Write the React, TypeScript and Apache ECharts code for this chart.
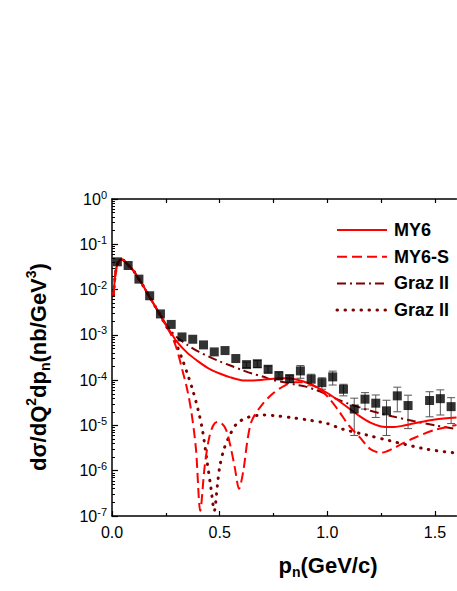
import React, { useEffect, useRef } from "react";
import * as echarts from "echarts";

// ---------- data ----------
const expX = [0.025, 0.075, 0.125, 0.175, 0.225, 0.275, 0.325, 0.375, 0.425, 0.475, 0.525, 0.575, 0.625, 0.675, 0.725, 0.775, 0.825, 0.875, 0.925, 0.975, 1.025, 1.075, 1.125, 1.175, 1.225, 1.275, 1.325, 1.375, 1.475, 1.525, 1.575];
const expY = [0.041, 0.034, 0.017, 0.0073, 0.0029, 0.0017, 0.0009, 0.0008, 0.0006, 0.00042, 0.00045, 0.0003, 0.00022, 0.00023, 0.000174, 0.000126, 0.000108, 0.00016, 0.000105, 0.000088, 0.000118, 0.000063, 0.000023, 0.000038, 0.000031, 0.000021, 0.000045, 0.0000275, 0.0000355, 0.000039, 0.000026];
const expErr = [0, 0, 0, 0, 0, 0, 0, 0, 0, 0, 0, 0, 0.00003, 0.00004, 0.00003, 0.000025, 0.00002, 0.00005, 0.00003, 0.000025, 0.00004, 0.000018, 0.000017, 0.000015, 0.000016, 0.000015, 0.000025, 0.000019, 0.00002, 0.000022, 0.000015];

const my6X = [0.007, 0.012, 0.018, 0.025, 0.035, 0.045, 0.055, 0.07, 0.1, 0.125, 0.15, 0.175, 0.2, 0.225, 0.25, 0.275, 0.3, 0.35, 0.4, 0.45, 0.5, 0.55, 0.6, 0.65, 0.7, 0.75, 0.8, 0.85, 0.9, 0.95, 1.0, 1.05, 1.1, 1.15, 1.2, 1.25, 1.3, 1.35, 1.4, 1.5, 1.6];
const my6Y = [0.0075, 0.015, 0.026, 0.036, 0.044, 0.046, 0.044, 0.037, 0.026, 0.017, 0.011, 0.0068, 0.0043, 0.0027, 0.0017, 0.0011, 0.00072, 0.0004, 0.00026, 0.00018, 0.00014, 0.000115, 0.0001, 0.000098, 0.000102, 0.000108, 0.00011, 0.000105, 0.00009, 0.00007, 0.000052, 0.000036, 0.000024, 0.000016, 0.0000115, 0.0000095, 0.0000092, 0.0000098, 0.000011, 0.0000135, 0.000015];

const my6sX = [0.007, 0.012, 0.018, 0.025, 0.035, 0.045, 0.055, 0.07, 0.1, 0.125, 0.15, 0.175, 0.2, 0.225, 0.25, 0.275, 0.3, 0.325, 0.35, 0.37, 0.39, 0.41, 0.43, 0.45, 0.47, 0.49, 0.51, 0.53, 0.55, 0.57, 0.59, 0.61, 0.63, 0.65, 0.7, 0.75, 0.8, 0.85, 0.9, 0.95, 1.0, 1.05, 1.1, 1.15, 1.2, 1.25, 1.3, 1.35, 1.4, 1.5, 1.6];
const my6sY = [0.0075, 0.015, 0.026, 0.036, 0.044, 0.046, 0.044, 0.037, 0.026, 0.017, 0.011, 0.0068, 0.0043, 0.0027, 0.0016, 0.001, 0.0005, 0.00018, 0.00006, 0.000018, 0.000003, 0.00000013, 0.0000012, 0.000005, 0.00001, 0.000012, 0.000011, 0.000008, 0.0000035, 0.0000012, 0.0000004, 0.000001, 0.000005, 0.000013, 0.00003, 0.000052, 0.000075, 0.00009, 0.000088, 0.00007, 0.000044, 0.000022, 0.00001, 0.0000055, 0.000003, 0.0000025, 0.000003, 0.000004, 0.0000052, 0.000008, 0.0000102];

const grazDDX = [0.007, 0.012, 0.018, 0.025, 0.035, 0.045, 0.055, 0.07, 0.1, 0.125, 0.15, 0.175, 0.2, 0.225, 0.25, 0.275, 0.3, 0.35, 0.4, 0.45, 0.5, 0.55, 0.6, 0.65, 0.7, 0.75, 0.8, 0.85, 0.9, 0.95, 1.0, 1.05, 1.1, 1.15, 1.2, 1.3, 1.4, 1.5, 1.6];
const grazDDY = [0.0075, 0.015, 0.026, 0.036, 0.044, 0.046, 0.044, 0.037, 0.026, 0.017, 0.011, 0.0068, 0.0043, 0.0027, 0.0017, 0.0012, 0.0009, 0.0006, 0.00043, 0.00033, 0.00026, 0.00021, 0.00017, 0.00014, 0.00012, 0.0001, 0.00009, 0.00008, 0.000072, 0.00006, 0.000048, 0.000037, 0.00003, 0.000025, 0.000021, 0.000016, 0.0000125, 0.00001, 0.0000083];

const grazDotX = [0.007, 0.012, 0.018, 0.025, 0.035, 0.045, 0.055, 0.07, 0.1, 0.125, 0.15, 0.175, 0.2, 0.225, 0.25, 0.275, 0.3, 0.325, 0.35, 0.375, 0.4, 0.42, 0.44, 0.46, 0.475, 0.49, 0.5, 0.52, 0.55, 0.58, 0.63, 0.7, 0.75, 0.85, 0.92, 1.0, 1.07, 1.18, 1.29, 1.46, 1.6];
const grazDotY = [0.0075, 0.015, 0.026, 0.036, 0.044, 0.046, 0.044, 0.037, 0.026, 0.017, 0.011, 0.0068, 0.0043, 0.0027, 0.0016, 0.0011, 0.0006, 0.0003, 0.00014, 0.00006, 0.000022, 0.000008, 0.0000018, 0.0000004, 0.00000013, 0.0000005, 0.0000012, 0.000003, 0.0000065, 0.000011, 0.000015, 0.000017, 0.0000165, 0.0000145, 0.000013, 0.000011, 0.0000083, 0.0000062, 0.0000046, 0.000003, 0.00000245];

const yMajorTicks = [1e-7, 1e-6, 1e-5, 1e-4, 1e-3, 1e-2, 1e-1, 1];
const xMajorTicks = [0, 0.5, 1.0, 1.5];
const xMinorTicks = [0.25, 0.75, 1.25];
const xTopTicks = [0.25, 0.5, 0.75, 1.0, 1.25, 1.5];

const legendNames = ["MY6", "MY6-S", "Graz II", "Graz II"];

const RED = "#FF0000";
const DARK = "#800000";
const FONT = "'Liberation Sans', Arial, sans-serif";

const yMinorTicks: number[] = [];
for (let e = -7; e < 0; e++) {
  for (let k = 2; k <= 9; k++) yMinorTicks.push(k * Math.pow(10, e));
}

const zip = (xs: number[], ys: number[]) => xs.map((x, i) => [x, ys[i]]);

export default function App() {
  const ref = useRef<HTMLDivElement>(null);
  useEffect(() => {
    if (!ref.current) return;
    const chart = echarts.init(ref.current, null, { renderer: "svg" });
    const axisLineStyle = { color: "#000", width: 1.5 };
    const legendStyles: any[] = [
      { stroke: RED, lineWidth: 2 },
      { stroke: RED, lineWidth: 2, lineDash: [10, 5] },
      { stroke: DARK, lineWidth: 2, lineDash: [9, 4, 2, 4] },
      { stroke: DARK, lineWidth: 3, lineDash: [0.5, 7.5], lineCap: "round" },
    ];
    const legendGraphics: any[] = [];
    legendNames.forEach((name, i) => {
      const y = 230 + i * 26.7;
      legendGraphics.push({
        type: "line",
        shape: { x1: 337, y1: y, x2: 387, y2: y },
        style: legendStyles[i],
      });
      legendGraphics.push({
        type: "text",
        x: 394,
        y: y,
        style: {
          text: name,
          font: `bold 18px ${FONT}`,
          fill: "#000",
          verticalAlign: "middle",
          align: "left",
        },
      });
    });

    const option: any = {
      animation: false,
      backgroundColor: "#fff",
      grid: { left: 112, top: 199, right: 0.5, bottom: 75, containLabel: false },
      xAxis: [
        {
          type: "value",
          min: 0,
          max: 1.6,
          position: "bottom",
          axisLine: { show: true, onZero: false, lineStyle: axisLineStyle },
          axisTick: { show: true, inside: true, length: 5, customValues: xMajorTicks, lineStyle: { color: "#000", width: 1.2 } },
          axisLabel: {
            customValues: xMajorTicks,
            formatter: (v: number) => v.toFixed(1),
            fontSize: 16,
            fontFamily: FONT,
            color: "#000",
            margin: 8,
          },
          splitLine: { show: false },
        },
        {
          type: "value",
          min: 0,
          max: 1.6,
          position: "bottom",
          offset: 0,
          axisLine: { show: false, onZero: false },
          axisTick: { show: true, inside: true, length: 3, customValues: xMinorTicks, lineStyle: { color: "#000", width: 1.2 } },
          axisLabel: { show: false },
          splitLine: { show: false },
        },
        {
          type: "value",
          min: 0,
          max: 1.6,
          position: "top",
          axisLine: { show: true, onZero: false, lineStyle: axisLineStyle },
          axisTick: { show: true, inside: true, length: 4, customValues: xTopTicks, lineStyle: { color: "#000", width: 1.2 } },
          axisLabel: { show: false },
          splitLine: { show: false },
        },
      ],
      yAxis: [
        {
          type: "log",
          logBase: 10,
          min: 1e-7,
          max: 1,
          position: "left",
          axisLine: { show: true, onZero: false, lineStyle: axisLineStyle },
          axisTick: { show: true, inside: true, length: 6, customValues: yMajorTicks, lineStyle: { color: "#000", width: 1.2 } },
          axisLabel: {
            customValues: yMajorTicks,
            margin: 5,
            formatter: (v: number) => `{b|10}{s|${Math.round(Math.log10(v))}}`,
            rich: {
              b: { fontSize: 16, fontFamily: FONT, color: "#000", lineHeight: 20 },
              s: { fontSize: 11, fontFamily: FONT, color: "#000", lineHeight: 11, verticalAlign: "top" },
            },
          },
          splitLine: { show: false },
          minorTick: { show: false },
        },
        {
          type: "log",
          logBase: 10,
          min: 1e-7,
          max: 1,
          position: "left",
          offset: 0,
          axisLine: { show: false, onZero: false },
          axisTick: { show: true, inside: true, length: 3, customValues: yMinorTicks, lineStyle: { color: "#000", width: 1 } },
          axisLabel: { show: false },
          splitLine: { show: false },
        },
      ],
      series: [
        {
          type: "custom",
          name: "errors",
          xAxisIndex: 0,
          yAxisIndex: 0,
          clip: true,
          z: 3,
          encode: { x: 0, y: [1, 2] },
          data: expX
            .map((x, i) => [x, Math.max(expY[i] - expErr[i], 1e-8), expY[i] + expErr[i], expErr[i]])
            .filter((d) => d[3] > 0),
          renderItem: (params: any, api: any) => {
            const x = api.value(0);
            const lo = api.coord([x, api.value(1)]);
            const hi = api.coord([x, api.value(2)]);
            const st = { stroke: "#555", lineWidth: 1 };
            const w = 4;
            return {
              type: "group",
              children: [
                { type: "line", shape: { x1: lo[0], y1: lo[1], x2: hi[0], y2: hi[1] }, style: st },
                { type: "line", shape: { x1: hi[0] - w, y1: hi[1], x2: hi[0] + w, y2: hi[1] }, style: st },
                { type: "line", shape: { x1: lo[0] - w, y1: lo[1], x2: lo[0] + w, y2: lo[1] }, style: st },
              ],
            };
          },
        },
        {
          type: "line",
          name: "Graz II dotted",
          data: zip(grazDotX, grazDotY),
          symbol: "none",
          smooth: 0.3,
          z: 4,
          lineStyle: { color: DARK, width: 3, type: [0.5, 7.5], cap: "round" },
        },
        {
          type: "line",
          name: "Graz II dashdot",
          data: zip(grazDDX, grazDDY),
          symbol: "none",
          smooth: 0.3,
          z: 4,
          lineStyle: { color: DARK, width: 2, type: [9, 4, 2, 4] },
        },
        {
          type: "line",
          name: "MY6-S",
          data: zip(my6sX, my6sY),
          symbol: "none",
          smooth: 0.3,
          z: 5,
          lineStyle: { color: RED, width: 2, type: [10, 5] },
        },
        {
          type: "line",
          name: "MY6",
          data: zip(my6X, my6Y),
          symbol: "none",
          smooth: 0.3,
          z: 5,
          lineStyle: { color: RED, width: 2, type: "solid" },
        },
        {
          type: "scatter",
          name: "data",
          data: zip(expX, expY),
          symbol: "rect",
          symbolSize: 9,
          z: 6,
          itemStyle: { color: "#000" },
        },
      ],
      graphic: [
        {
          type: "text",
          x: 38,
          y: 367,
          rotation: Math.PI / 2,
          style: {
            text: "{m|dσ/dQ}{sup|2}{m|dp}{sub|n}{m|(nb/GeV}{sup|3}{m|)}",
            align: "center",
            verticalAlign: "middle",
            rich: {
              m: { fontSize: 22, fontWeight: "bold", fontFamily: FONT, fill: "#000", lineHeight: 28 },
              sup: { fontSize: 14, fontWeight: "bold", fontFamily: FONT, fill: "#000", lineHeight: 14, verticalAlign: "top" },
              sub: { fontSize: 14, fontWeight: "bold", fontFamily: FONT, fill: "#000", lineHeight: 14, verticalAlign: "bottom" },
            },
          },
        },
        {
          type: "text",
          x: 328,
          y: 565,
          style: {
            text: "{m|p}{sub|n}{m|(GeV/c)}",
            align: "center",
            verticalAlign: "middle",
            rich: {
              m: { fontSize: 22, fontWeight: "bold", fontFamily: FONT, fill: "#000", lineHeight: 28 },
              sub: { fontSize: 14, fontWeight: "bold", fontFamily: FONT, fill: "#000", lineHeight: 14, verticalAlign: "bottom" },
            },
          },
        },
        ...legendGraphics,
      ],
    };
    chart.setOption(option);
    return () => chart.dispose();
  }, []);
  return (
    <div
      ref={ref}
      style={{ position: "absolute", left: 0, top: 0, width: 457, height: 591, background: "#fff" }}
    />
  );
}
